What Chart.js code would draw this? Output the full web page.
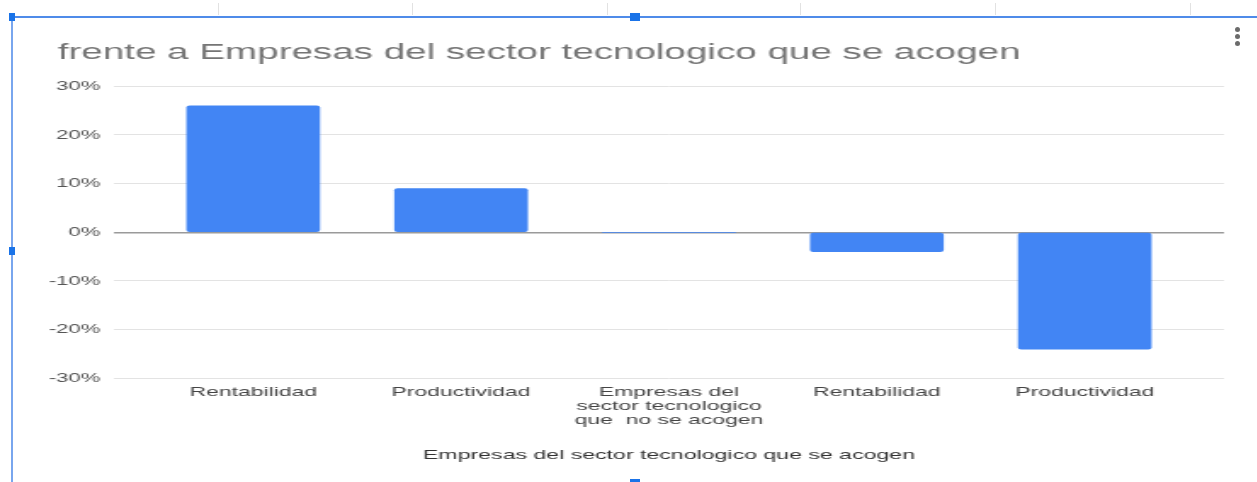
<!DOCTYPE html>
<html>
<head>
<meta charset="utf-8">
<script src="https://cdn.jsdelivr.net/npm/chart.js@4.4.1/dist/chart.umd.min.js"></script>
<style>
  html, body { margin: 0; padding: 0; background: #fff; overflow: hidden; width: 1257px; height: 482px; }
  #wrap { position: absolute; left: 0; top: 0; width: 739px; height: 482px; transform: scaleX(1.7); transform-origin: 0 0; }
  .deco { position: absolute; }
</style>
</head>
<body>
<div id="wrap"><canvas id="c" width="739" height="482"></canvas></div>

<!-- editor frame decorations -->
<div class="deco" style="left:218px;top:3px;width:1px;height:12px;background:#e2e2e2"></div>
<div class="deco" style="left:412px;top:3px;width:1px;height:12px;background:#e2e2e2"></div>
<div class="deco" style="left:607px;top:3px;width:1px;height:12px;background:#e2e2e2"></div>
<div class="deco" style="left:800px;top:3px;width:1px;height:12px;background:#e2e2e2"></div>
<div class="deco" style="left:995px;top:3px;width:1px;height:12px;background:#e2e2e2"></div>
<div class="deco" style="left:1190px;top:3px;width:1px;height:12px;background:#e2e2e2"></div>
<div class="deco" style="left:10px;top:16px;width:1247px;height:2px;background:#4f8be9"></div>
<div class="deco" style="left:11px;top:17px;width:2px;height:465px;background:#79a6ee"></div>
<div class="deco" style="left:9px;top:13px;width:6px;height:8px;background:#1a73e8"></div>
<div class="deco" style="left:630px;top:13px;width:10px;height:8px;background:#1a73e8"></div>
<div class="deco" style="left:9px;top:247px;width:6px;height:8px;background:#1a73e8"></div>
<div class="deco" style="left:630px;top:479px;width:10px;height:4px;background:#1a73e8"></div>
<div class="deco" style="left:1235px;top:27px;width:5px;height:5px;border-radius:50%;background:#6b6b6b"></div>
<div class="deco" style="left:1235px;top:34px;width:5px;height:5px;border-radius:50%;background:#6b6b6b"></div>
<div class="deco" style="left:1235px;top:41px;width:5px;height:5px;border-radius:50%;background:#6b6b6b"></div>

<script>
const titleText = "frente a Empresas del sector tecnologico que se acogen";
const axisTitle = "Empresas del sector tecnologico que se acogen";
const categories = [
  "Rentabilidad",
  "Productividad",
  ["Empresas del", "sector tecnologico", "que  no se acogen"],
  "Rentabilidad",
  "Productividad"
];
const values = [26, 9, 0, -4, -24];
const yTickValues = [-30, -20, -10, 0, 10, 20, 30];

const FONT = "'Liberation Sans', Arial, sans-serif";

const titleShift = {
  id: 'titleShift',
  afterLayout(chart) {
    if (chart.titleBlock) chart.titleBlock.left = 34;
  }
};

new Chart(document.getElementById('c'), {
  type: 'bar',
  data: {
    datasets: [{
      data: values.map((v, i) => ({ x: i, y: v })),
      backgroundColor: '#4285f4',
      borderWidth: 0,
      borderRadius: 2,
      borderSkipped: false,
      barThickness: 78
    }]
  },
  plugins: [titleShift],
  options: {
    responsive: false,
    animation: false,
    devicePixelRatio: 1,
    layout: { padding: { left: 26, right: 19, top: 0, bottom: 19 } },
    plugins: {
      legend: { display: false },
      tooltip: { enabled: false },
      title: {
        display: true,
        text: titleText,
        align: 'start',
        color: '#757575',
        font: { family: FONT, size: 22.7, weight: 'normal', lineHeight: 1.2 },
        padding: { top: 39, bottom: 20 }
      }
    },
    scales: {
      x: {
        type: 'linear',
        offset: false,
        min: -0.67,
        max: 4.67,
        afterBuildTicks: (s) => { s.ticks = categories.map((_, i) => ({ value: i })); },
        grid: { display: false, drawTicks: false, offset: false },
        border: { display: false },
        ticks: {
          autoSkip: false,
          maxRotation: 0,
          minRotation: 0,
          padding: 7,
          color: '#444',
          font: { family: FONT, size: 13.5, lineHeight: 1.02 },
          callback: (v) => categories[Math.round(v)]
        },
        title: {
          display: true,
          text: axisTitle,
          color: '#333',
          font: { family: FONT, size: 13.6, lineHeight: 1.2 },
          padding: { top: 13, bottom: 0 }
        }
      },
      y: {
        min: -30,
        max: 30,
        afterBuildTicks: (s) => { s.ticks = yTickValues.map(v => ({ value: v })); },
        afterFit: (s) => { s.width = 41; },
        grid: {
          drawTicks: false,
          color: (ctx) => ctx.tick && ctx.tick.value === 0 ? '#9a9a9a' : '#e3e3e3',
          lineWidth: (ctx) => ctx.tick && ctx.tick.value === 0 ? 1.5 : 1
        },
        border: { display: false },
        ticks: {
          padding: 8,
          color: '#555',
          font: { family: FONT, size: 13 },
          callback: (v) => v + '%'
        }
      }
    }
  }
});
</script>
</body>
</html>
